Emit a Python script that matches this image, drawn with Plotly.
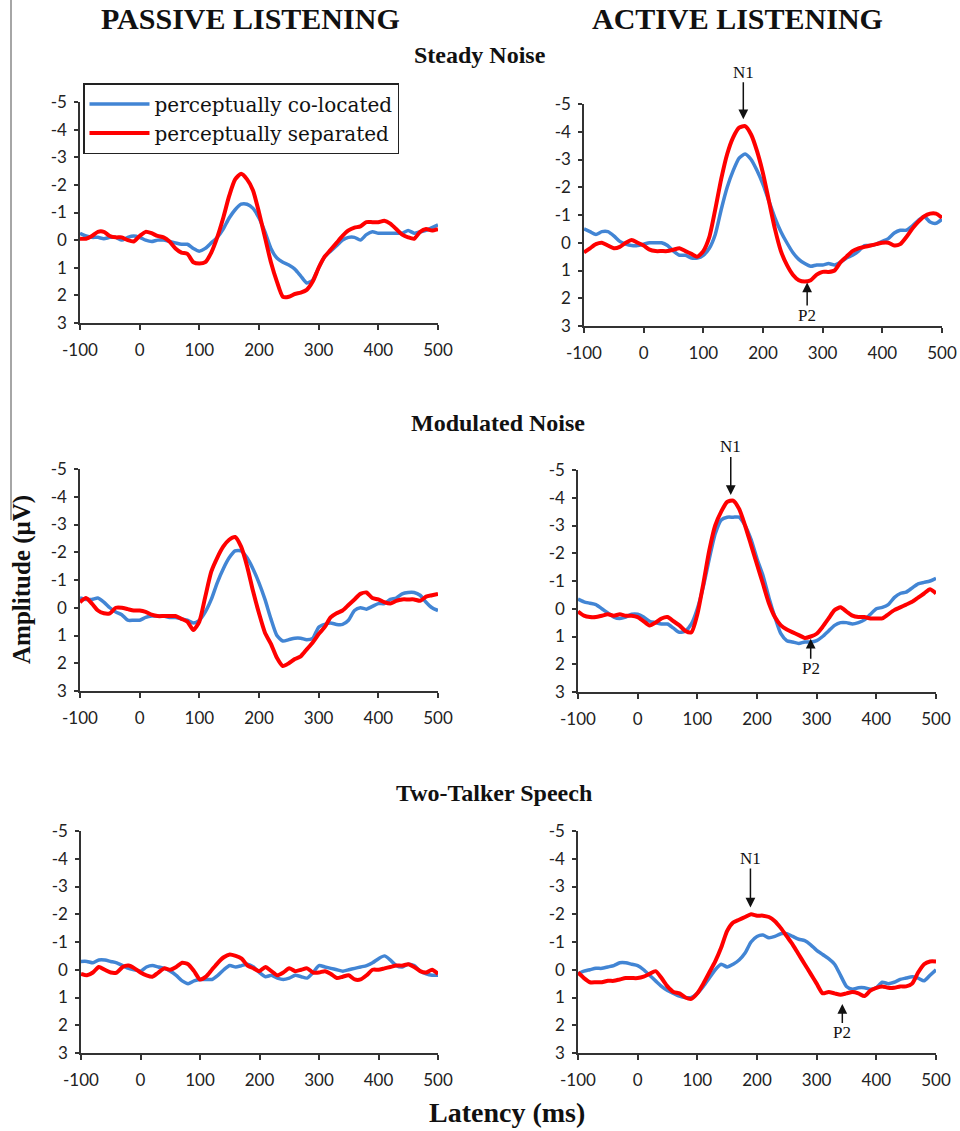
import plotly.graph_objects as go

# Latency samples (ms)
latency = list(range(-100, 501, 10))

# ---- Steady Noise ----
steady_passive_colocated = [-0.25, -0.15, -0.1, -0.1, -0.05, -0.1, -0.1, 0.0, -0.1, -0.15,
    -0.1, 0.0, 0.05, 0.0, 0.0, 0.05, 0.1, 0.15, 0.15, 0.3,
    0.4, 0.3, 0.1, -0.1, -0.4, -0.8, -1.1, -1.3, -1.3, -1.15,
    -0.8, -0.3, 0.3, 0.65, 0.8, 0.9, 1.05, 1.3, 1.55, 1.45,
    1.0, 0.6, 0.4, 0.2, 0.0, -0.1, -0.1, 0.0, -0.2, -0.3,
    -0.25, -0.25, -0.25, -0.25, -0.25, -0.35, -0.25, -0.3, -0.35, -0.45, -0.55]
steady_passive_separated = [-0.05, -0.05, -0.15, -0.3, -0.3, -0.15, -0.1, -0.1, 0.0, 0.05,
    -0.15, -0.3, -0.25, -0.15, -0.1, 0.05, 0.3, 0.45, 0.5, 0.8,
    0.85, 0.8, 0.45, -0.1, -0.8, -1.6, -2.2, -2.4, -2.2, -1.8,
    -1.0, -0.1, 0.8, 1.5, 2.05, 2.05, 1.95, 1.9, 1.8, 1.5,
    1.0, 0.6, 0.35, 0.1, -0.15, -0.35, -0.45, -0.5, -0.65, -0.65,
    -0.65, -0.7, -0.6, -0.4, -0.2, -0.1, -0.05, -0.3, -0.4, -0.35, -0.4]
steady_active_colocated = [-0.5, -0.4, -0.3, -0.4, -0.4, -0.25, -0.05, 0.05, 0.1, 0.1,
    0.05, 0.0, 0.0, 0.0, 0.1, 0.3, 0.45, 0.45, 0.55, 0.55,
    0.45, 0.2, -0.3, -1.2, -2.0, -2.6, -3.05, -3.2, -3.0, -2.6,
    -2.1, -1.5, -0.9, -0.4, 0.0, 0.35, 0.6, 0.75, 0.85, 0.8,
    0.8, 0.75, 0.8, 0.7, 0.55, 0.45, 0.3, 0.1, 0.1, 0.05,
    -0.05, -0.15, -0.35, -0.45, -0.45, -0.6, -0.8, -0.95, -0.75, -0.7, -0.85]
steady_active_separated = [0.35, 0.2, 0.05, 0.0, 0.1, 0.2, 0.15, 0.0, -0.1, 0.0,
    0.1, 0.25, 0.3, 0.3, 0.3, 0.25, 0.2, 0.3, 0.4, 0.5,
    0.3, -0.2, -1.2, -2.3, -3.2, -3.8, -4.15, -4.2, -3.9, -3.3,
    -2.5, -1.5, -0.5, 0.3, 0.8, 1.15, 1.35, 1.4, 1.35, 1.15,
    1.05, 1.05, 1.0, 0.7, 0.5, 0.3, 0.2, 0.15, 0.1, 0.05,
    0.0, 0.0, 0.1, 0.05, -0.2, -0.5, -0.75, -0.95, -1.05, -1.05, -0.9]

# ---- Modulated Noise ----
modulated_passive_colocated = [-0.35, -0.3, -0.3, -0.35, -0.2, 0.0, 0.15, 0.25, 0.45, 0.45,
    0.45, 0.35, 0.3, 0.3, 0.3, 0.35, 0.35, 0.4, 0.45, 0.55,
    0.45, 0.15, -0.3, -0.9, -1.4, -1.8, -2.05, -2.05, -1.8, -1.4,
    -0.9, -0.3, 0.4, 1.0, 1.2, 1.15, 1.1, 1.1, 1.15, 1.1,
    0.7, 0.6, 0.55, 0.6, 0.6, 0.45, 0.1, 0.0, 0.05, -0.05,
    -0.15, -0.15, -0.3, -0.35, -0.5, -0.55, -0.55, -0.45, -0.2, 0.0, 0.1]
modulated_passive_separated = [-0.2, -0.35, -0.15, 0.1, 0.2, 0.2, 0.0, 0.0, 0.05, 0.1,
    0.1, 0.15, 0.25, 0.3, 0.3, 0.3, 0.3, 0.4, 0.5, 0.8,
    0.5, -0.4, -1.3, -1.8, -2.2, -2.45, -2.55, -2.2, -1.5, -0.6,
    0.2, 0.9, 1.3, 1.8, 2.1, 2.0, 1.85, 1.75, 1.5, 1.25,
    0.95, 0.7, 0.35, 0.2, 0.1, -0.1, -0.3, -0.5, -0.55, -0.35,
    -0.3, -0.2, -0.15, -0.25, -0.3, -0.3, -0.3, -0.25, -0.4, -0.45, -0.5]
modulated_active_colocated = [-0.35, -0.25, -0.2, -0.15, 0.0, 0.15, 0.3, 0.35, 0.3, 0.2,
    0.2, 0.3, 0.45, 0.5, 0.55, 0.55, 0.7, 0.85, 0.8, 0.55,
    0.0, -0.8, -1.8, -2.7, -3.2, -3.3, -3.3, -3.3, -3.0, -2.5,
    -1.8, -1.2, -0.4, 0.3, 0.9, 1.15, 1.2, 1.25, 1.2, 1.2,
    1.15, 1.0, 0.8, 0.6, 0.5, 0.5, 0.55, 0.5, 0.4, 0.2,
    0.0, -0.05, -0.15, -0.4, -0.55, -0.6, -0.75, -0.9, -0.95, -1.0, -1.1]
modulated_active_separated = [0.1, 0.25, 0.3, 0.3, 0.25, 0.2, 0.25, 0.2, 0.25, 0.25,
    0.3, 0.45, 0.6, 0.5, 0.35, 0.3, 0.45, 0.6, 0.8, 0.85,
    0.2, -0.9, -2.1, -3.0, -3.5, -3.85, -3.9, -3.6, -3.0, -2.3,
    -1.6, -0.9, -0.2, 0.3, 0.6, 0.75, 0.85, 0.95, 1.05, 1.0,
    0.9, 0.65, 0.35, 0.05, -0.05, 0.1, 0.25, 0.3, 0.3, 0.35,
    0.35, 0.35, 0.2, 0.05, -0.05, -0.15, -0.25, -0.4, -0.55, -0.7, -0.55]

# ---- Two-Talker Speech ----
speech_passive_colocated = [-0.3, -0.3, -0.25, -0.35, -0.35, -0.3, -0.25, -0.15, -0.05, 0.0,
    0.05, -0.1, -0.15, -0.1, -0.05, 0.05, 0.2, 0.4, 0.5, 0.4,
    0.35, 0.35, 0.35, 0.2, 0.0, -0.15, -0.1, -0.15, -0.2, -0.1,
    0.1, 0.25, 0.2, 0.3, 0.35, 0.3, 0.2, 0.25, 0.3, 0.1,
    -0.15, -0.1, -0.05, 0.0, 0.05, 0.0, -0.05, -0.1, -0.15, -0.25,
    -0.4, -0.5, -0.35, -0.15, -0.1, -0.2, -0.15, 0.05, 0.15, 0.2, 0.2]
speech_passive_separated = [0.15, 0.2, 0.1, -0.1, 0.0, 0.1, 0.1, -0.1, -0.15, -0.05,
    0.1, 0.2, 0.25, 0.1, -0.05, 0.0, -0.1, -0.25, -0.2, 0.05,
    0.35, 0.25, 0.0, -0.25, -0.45, -0.55, -0.5, -0.4, -0.15, -0.05,
    0.05, -0.1, 0.05, 0.2, 0.1, -0.05, 0.05, 0.0, -0.05, 0.1,
    0.1, 0.05, 0.15, 0.3, 0.25, 0.2, 0.35, 0.35, 0.2, 0.0,
    0.0, -0.05, -0.1, -0.15, -0.15, -0.2, -0.1, 0.05, 0.1, 0.0, 0.15]
speech_active_colocated = [0.15, 0.05, 0.0, -0.05, -0.05, -0.1, -0.15, -0.25, -0.25, -0.2,
    -0.15, 0.0, 0.2, 0.4, 0.6, 0.75, 0.85, 0.95, 1.0, 1.0,
    0.85, 0.6, 0.3, 0.0, -0.2, -0.1, -0.2, -0.35, -0.6, -1.0,
    -1.2, -1.25, -1.15, -1.2, -1.3, -1.3, -1.2, -1.1, -1.05, -0.9,
    -0.7, -0.55, -0.4, -0.2, 0.2, 0.6, 0.7, 0.65, 0.65, 0.7,
    0.65, 0.45, 0.5, 0.45, 0.35, 0.3, 0.25, 0.3, 0.4, 0.2, 0.0]
speech_active_separated = [0.1, 0.3, 0.45, 0.45, 0.45, 0.4, 0.4, 0.35, 0.3, 0.3,
    0.3, 0.25, 0.15, 0.05, 0.3, 0.6, 0.8, 0.85, 1.0, 1.05,
    0.85, 0.5, 0.1, -0.3, -0.8, -1.4, -1.7, -1.8, -1.9, -2.0,
    -1.95, -1.95, -1.9, -1.75, -1.5, -1.2, -0.9, -0.55, -0.2, 0.15,
    0.5, 0.85, 0.8, 0.85, 0.9, 0.85, 0.8, 0.85, 0.95, 0.75,
    0.65, 0.6, 0.65, 0.65, 0.6, 0.6, 0.5, 0.1, -0.2, -0.3, -0.3]

series_names = ["perceptually co-located", "perceptually separated"]
colors = ["#4285d4", "#ff0000"]
widths = [3.5, 4]

panels = [
    ("", steady_passive_colocated, steady_passive_separated),
    ("2", steady_active_colocated, steady_active_separated),
    ("3", modulated_passive_colocated, modulated_passive_separated),
    ("4", modulated_active_colocated, modulated_active_separated),
    ("5", speech_passive_colocated, speech_passive_separated),
    ("6", speech_active_colocated, speech_active_separated),
]

W, H = 960, 1131

def fx(px):
    return px / W

def fy(py):
    return 1 - py / H

# panel pixel boxes (left, right, top, bottom)
boxes = [
    (80, 438, 102, 323),
    (584, 942, 104, 326),
    (80, 438, 469, 691),
    (578, 936, 470, 692),
    (81, 438, 831, 1053),
    (578, 936, 831, 1053),
]

fig = go.Figure()

for i, (suf, colo, sep) in enumerate(panels):
    xa = "x" + suf
    ya = "y" + suf
    for j, data in enumerate([colo, sep]):
        fig.add_trace(go.Scatter(
            x=latency, y=data, mode="lines",
            line=dict(color=colors[j], width=widths[j], shape="spline", smoothing=0.6),
            name=series_names[j], legendgroup=series_names[j],
            showlegend=(i == 0), xaxis=xa, yaxis=ya,
        ))

tick_font = dict(family="Lato, Open Sans, sans-serif", size=17, color="#222")
x_ticks = [-100, 0, 100, 200, 300, 400, 500]
y_ticks = [-5, -4, -3, -2, -1, 0, 1, 2, 3]

layout_axes = {}
for i, (suf, _, _) in enumerate(panels):
    l, r, t, b = boxes[i]
    xkey = "xaxis" + suf
    ykey = "yaxis" + suf
    layout_axes[xkey] = dict(
        domain=[fx(l), fx(r)], range=[-100, 500], anchor="y" + suf,
        tickvals=x_ticks, ticktext=[str(v) for v in x_ticks],
        ticks="outside", ticklen=5, tickwidth=1.5, tickcolor="#333",
        showline=True, linecolor="#333", linewidth=1.5,
        showgrid=False, zeroline=False, tickfont=tick_font,
        ticklabelstandoff=6, fixedrange=True, automargin=False,
    )
    layout_axes[ykey] = dict(
        domain=[fy(b), fy(t)], range=[3, -5], anchor="x" + suf,
        tickvals=y_ticks, ticktext=[str(v) for v in y_ticks],
        ticks="outside", ticklen=4, tickwidth=1.5, tickcolor="#333",
        showline=True, linecolor="#333", linewidth=1.5,
        showgrid=False, zeroline=False, tickfont=tick_font,
        ticklabelstandoff=4, fixedrange=True, automargin=False,
    )

fig.update_layout(**layout_axes)

serif_bold = "Liberation Serif, Times New Roman, serif"
annotations = []

def text_ann(x, y, text, size, angle=0):
    annotations.append(dict(
        x=fx(x), y=fy(y), xref="paper", yref="paper", text=text,
        showarrow=False, textangle=angle,
        font=dict(family=serif_bold, size=size, color="#111"),
        xanchor="center", yanchor="middle",
    ))

text_ann(250, 19, "<b>PASSIVE LISTENING</b>", 30)
text_ann(737, 19, "<b>ACTIVE LISTENING</b>", 30)
text_ann(480, 55, "<b>Steady Noise</b>", 24)
text_ann(498, 423, "<b>Modulated Noise</b>", 24)
text_ann(494, 793, "<b>Two-Talker Speech</b>", 24)
text_ann(507, 1112, "<b>Latency (ms)</b>", 28)
text_ann(22, 580, "<b>Amplitude (μV)</b>", 25, angle=-90)

# N1 / P2 markers
peak_latency = [167, 274, 156, 290, 189, 343]
peak_amplitude = [-4.45, 1.43, -4.1, 1.08, -2.24, 1.23]
peak_labels = ["N1", "P2", "N1", "P2", "N1", "P2"]
peak_axes = ["2", "2", "4", "4", "6", "6"]
peak_offsets = [-47, 33, -48, 30, -49, 29]

for lat, amp, lab, ax_s, off in zip(peak_latency, peak_amplitude, peak_labels, peak_axes, peak_offsets):
    annotations.append(dict(
        x=lat, y=amp, xref="x" + ax_s, yref="y" + ax_s,
        text=lab, showarrow=True, ax=0, ay=off,
        arrowhead=2, arrowsize=1.3, arrowwidth=1.5, arrowcolor="#111",
        font=dict(family="Liberation Serif, serif", size=17, color="#111"),
        borderpad=0,
    ))

fig.update_layout(
    width=W, height=H,
    margin=dict(l=0, r=0, t=0, b=0, pad=0, autoexpand=False),
    paper_bgcolor="white", plot_bgcolor="white",
    annotations=annotations,
    showlegend=True,
    legend=dict(
        x=fx(83), y=fy(83), xanchor="left", yanchor="top",
        bgcolor="white", bordercolor="#222", borderwidth=1.5,
        font=dict(family="DejaVu Serif, serif", size=20, color="#111"),
        itemwidth=60, tracegroupgap=0,
    ),
    shapes=[dict(
        type="line", xref="paper", yref="paper",
        x0=fx(11), x1=fx(11), y0=fy(0), y1=fy(520),
        line=dict(color="#888", width=1.5),
    )],
)

fig.write_html(
    "out.html",
    config={"displayModeBar": False},
    post_script="document.body.style.margin='0';document.body.style.padding='0';",
)
